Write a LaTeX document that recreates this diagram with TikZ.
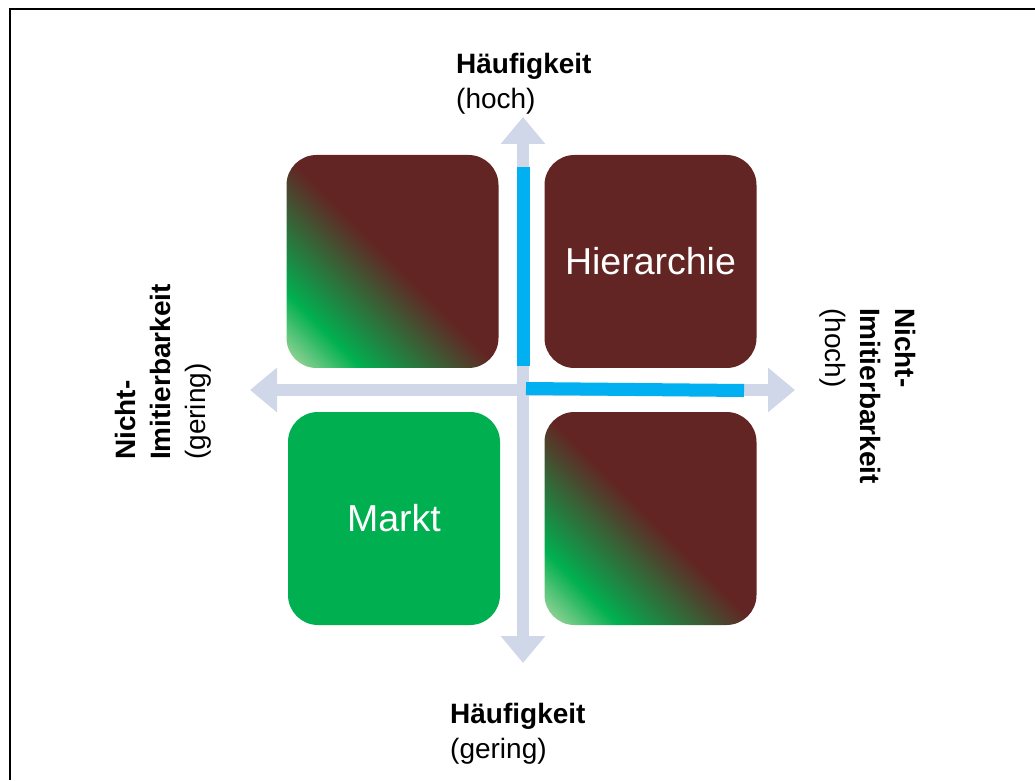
\documentclass[tikz,border=0pt]{standalone}
\usepackage{fontspec}
\setmainfont{Liberation Sans}
\usetikzlibrary{positioning, arrows.meta}
\definecolor{cellbrown}{RGB}{99,37,35}
\definecolor{cellgreen}{RGB}{0,176,80}
\definecolor{palegreen}{RGB}{170,215,160}
\definecolor{axisgray}{RGB}{208,215,232}
\definecolor{markblue}{RGB}{0,176,240}
\pgfdeclarehorizontalshading{greenbrown}{100bp}{color(0bp)=(palegreen); color(15bp)=(palegreen); color(27bp)=(cellgreen); color(50bp)=(cellbrown); color(100bp)=(cellbrown)}
\tikzset{
  cell/.style    = {rounded corners=30pt, minimum width=212pt, minimum height=213pt, inner sep=0pt, text=white, font=\fontsize{37.5}{45}\selectfont},
  mixcell/.style = {cell, shade, shading=greenbrown, shading angle=45},
  axis/.style    = {line width=12pt, draw=axisgray, {Triangle[width=43pt,length=27pt]}-{Triangle[width=43pt,length=27pt]}},
  bar/.style     = {line width=13pt, draw=markblue},
  axlabel/.style = {align=left, inner sep=0pt, font=\fontsize{28}{35}\selectfont}
}
\begin{document}
\begin{tikzpicture}[x=1pt, y=1pt]
  \useasboundingbox (0,0) rectangle (1035,780);
  \draw[line width=2.5pt] (10,0) -- (10,771) -- (1035,771);

  \node[mixcell] (mixtl) at (392.5,518.5) {};
  \node[cell, fill=cellbrown] (hier) at (650.5,518.5) {Hierarchie};
  \node[cell, fill=cellgreen] (markt) at (394,261.5) {Markt};
  \node[mixcell] (mixbr) at (650.5,261.5) {};

  \coordinate (ytop) at (523,663);
  \coordinate (ybot) at (523,117);
  \coordinate (xleft) at (250,390);
  \coordinate (xright) at (795,390);
  \draw[axis] (ybot) -- (ytop);
  \draw[axis] (xleft) -- (xright);

  \coordinate (vbar1) at (523,613);
  \coordinate (vbar2) at (523,414);
  \coordinate (hbar1) at (526,391.5);
  \coordinate (hbar2) at (744,389.5);
  \draw[bar] (vbar1) -- (vbar2);
  \draw[bar] (hbar1) -- (hbar2);

  \node[axlabel, anchor=north west] (ftop) at (456,727) {\textbf{Häufigkeit}\\(hoch)};
  \node[axlabel, anchor=north west] (fbot) at (450,77) {\textbf{Häufigkeit}\\(gering)};
  \node[axlabel, rotate=90, anchor=north west] (nleft) at (115,320) {\textbf{Nicht-}\\\textbf{Imitierbarkeit}\\(gering)};
  \node[axlabel, rotate=-90, anchor=north west] (nright) at (916,472) {\textbf{Nicht-}\\\textbf{Imitierbarkeit}\\(hoch)};
\end{tikzpicture}
\end{document}
